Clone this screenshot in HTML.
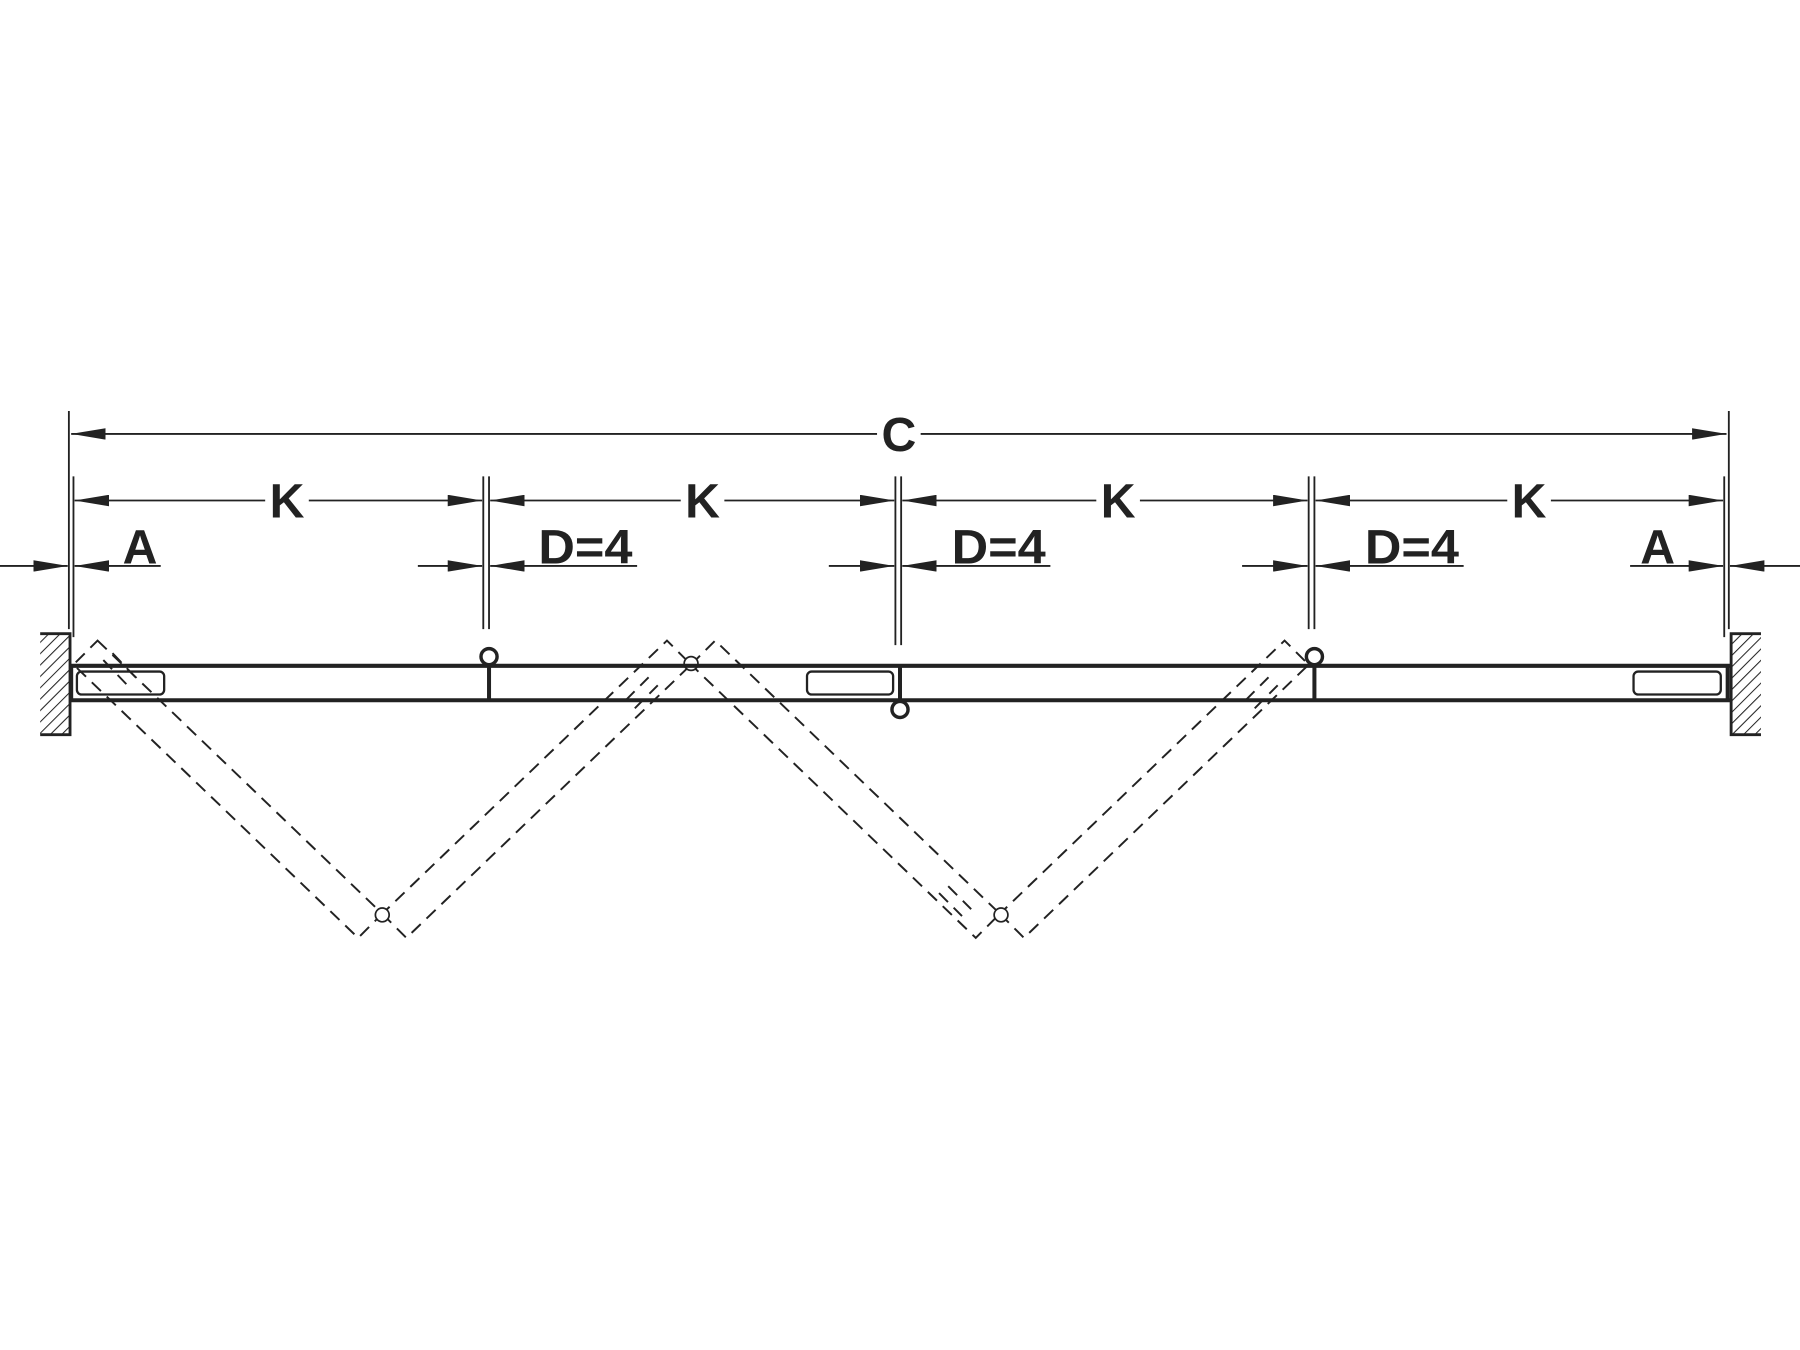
<!DOCTYPE html>
<html><head><meta charset="utf-8"><style>
html,body{margin:0;padding:0;background:#fff}
svg{display:block}
text{font-family:"Liberation Sans",Arial,sans-serif;font-weight:bold;fill:#222}
</style></head><body>
<svg width="1800" height="1350" viewBox="0 0 1568 1176" xmlns="http://www.w3.org/2000/svg">
<defs>
<marker id="ar" viewBox="0 0 30 10" refX="30" refY="5" markerWidth="30" markerHeight="10" markerUnits="userSpaceOnUse" orient="auto-start-reverse">
<path d="M0,0 L30,5 L0,10 Z" fill="#222"/>
</marker>
<pattern id="hatch" width="7" height="7" patternUnits="userSpaceOnUse" patternTransform="rotate(45)">
<line x1="0" y1="0" x2="0" y2="7" stroke="#222" stroke-width="1.8"/>
</pattern>
</defs>
<g stroke="#222" stroke-width="1.6" fill="none">
<line x1="60" y1="358" x2="60" y2="548"/>
<line x1="64" y1="415" x2="64" y2="555"/>
<line x1="1506" y1="358" x2="1506" y2="548"/>
<line x1="1502" y1="415" x2="1502" y2="555"/>
<line x1="421" y1="415" x2="421" y2="548"/><line x1="426" y1="415" x2="426" y2="548"/>
<line x1="780" y1="415" x2="780" y2="562"/><line x1="785" y1="415" x2="785" y2="562"/>
<line x1="1140" y1="415" x2="1140" y2="548"/><line x1="1145" y1="415" x2="1145" y2="548"/>
<line x1="62" y1="378" x2="1504" y2="378" marker-start="url(#ar)" marker-end="url(#ar)"/>
<line x1="65" y1="436" x2="420" y2="436" marker-start="url(#ar)" marker-end="url(#ar)"/>
<line x1="427" y1="436" x2="779" y2="436" marker-start="url(#ar)" marker-end="url(#ar)"/>
<line x1="786" y1="436" x2="1139" y2="436" marker-start="url(#ar)" marker-end="url(#ar)"/>
<line x1="1146" y1="436" x2="1501" y2="436" marker-start="url(#ar)" marker-end="url(#ar)"/>
<line x1="0" y1="493" x2="59" y2="493" marker-end="url(#ar)"/>
<line x1="140" y1="493" x2="65" y2="493" marker-end="url(#ar)"/>
<line x1="364" y1="493" x2="420" y2="493" marker-end="url(#ar)"/>
<line x1="555" y1="493" x2="427" y2="493" marker-end="url(#ar)"/>
<line x1="722" y1="493" x2="779" y2="493" marker-end="url(#ar)"/>
<line x1="915" y1="493" x2="786" y2="493" marker-end="url(#ar)"/>
<line x1="1082" y1="493" x2="1139" y2="493" marker-end="url(#ar)"/>
<line x1="1275" y1="493" x2="1146" y2="493" marker-end="url(#ar)"/>
<line x1="1420" y1="493" x2="1501" y2="493" marker-end="url(#ar)"/>
<line x1="1568" y1="493" x2="1507" y2="493" marker-end="url(#ar)"/>
</g>
<g fill="#fff">
<rect x="764" y="360" width="38" height="36"/>
<rect x="231" y="418" width="38" height="36"/><rect x="593" y="418" width="38" height="36"/>
<rect x="955" y="418" width="38" height="36"/><rect x="1313" y="418" width="38" height="36"/>
</g>
<g font-size="42" text-anchor="middle">
<text x="783" y="393">C</text>
<text x="250" y="451">K</text><text x="612" y="451">K</text>
<text x="974" y="451">K</text><text x="1332" y="451">K</text>
<text x="122" y="491">A</text><text x="1444" y="491">A</text>
<text x="510" y="491" textLength="82" lengthAdjust="spacingAndGlyphs">D=4</text>
<text x="870" y="491" textLength="82" lengthAdjust="spacingAndGlyphs">D=4</text>
<text x="1230" y="491" textLength="82" lengthAdjust="spacingAndGlyphs">D=4</text>
</g>
<rect x="35" y="552" width="26" height="88" fill="url(#hatch)"/>
<path d="M35,552 H61 V640 H35" fill="none" stroke="#222" stroke-width="2.5"/>
<rect x="1508" y="552" width="26" height="88" fill="url(#hatch)"/>
<path d="M1534,552 H1508 V640 H1534" fill="none" stroke="#222" stroke-width="2.5"/>
<g stroke="#222" stroke-width="1.7" fill="none" stroke-dasharray="11,7">
<polygon points="85,558 333,796 312,817 64,579"/>
<polygon points="333,796 354,817 602,579 581,558"/>
<polygon points="602,579 623,558 871,796 850,817"/>
<polygon points="871,796 892,817 1140,579 1119,558"/>
<line x1="90" y1="575" x2="112" y2="598"/><line x1="98" y1="569" x2="120" y2="592"/>
<line x1="545" y1="610" x2="565" y2="590"/><line x1="553" y1="617" x2="573" y2="597"/>
<line x1="1085" y1="610" x2="1105" y2="590"/><line x1="1093" y1="617" x2="1113" y2="597"/>
<line x1="818" y1="778" x2="838" y2="798"/><line x1="826" y1="772" x2="846" y2="792"/>
</g>
<g stroke="#222" stroke-width="1.5" fill="#fff">
<circle cx="333" cy="797" r="6"/><circle cx="602" cy="578" r="6"/><circle cx="872" cy="797" r="6"/>
</g>
<g stroke="#222" stroke-width="3.5" fill="none">
<line x1="61" y1="580" x2="1507" y2="580"/>
<line x1="61" y1="610" x2="1507" y2="610"/>
<line x1="62" y1="580" x2="62" y2="610"/>
<line x1="1505" y1="580" x2="1505" y2="610"/>
<line x1="426" y1="578" x2="426" y2="610"/>
<line x1="784" y1="580" x2="784" y2="612"/>
<line x1="1145" y1="578" x2="1145" y2="610"/>
</g>
<g stroke="#222" stroke-width="2" fill="none">
<rect x="67" y="585" width="76" height="20" rx="4"/>
<rect x="703" y="585" width="75" height="20" rx="4"/>
<rect x="1423" y="585" width="76" height="20" rx="4"/>
</g>
<g stroke="#222" stroke-width="3" fill="#fff">
<circle cx="426" cy="572" r="7"/>
<circle cx="784" cy="618" r="7"/>
<circle cx="1145" cy="572" r="7"/>
</g>
</svg>
</body></html>
